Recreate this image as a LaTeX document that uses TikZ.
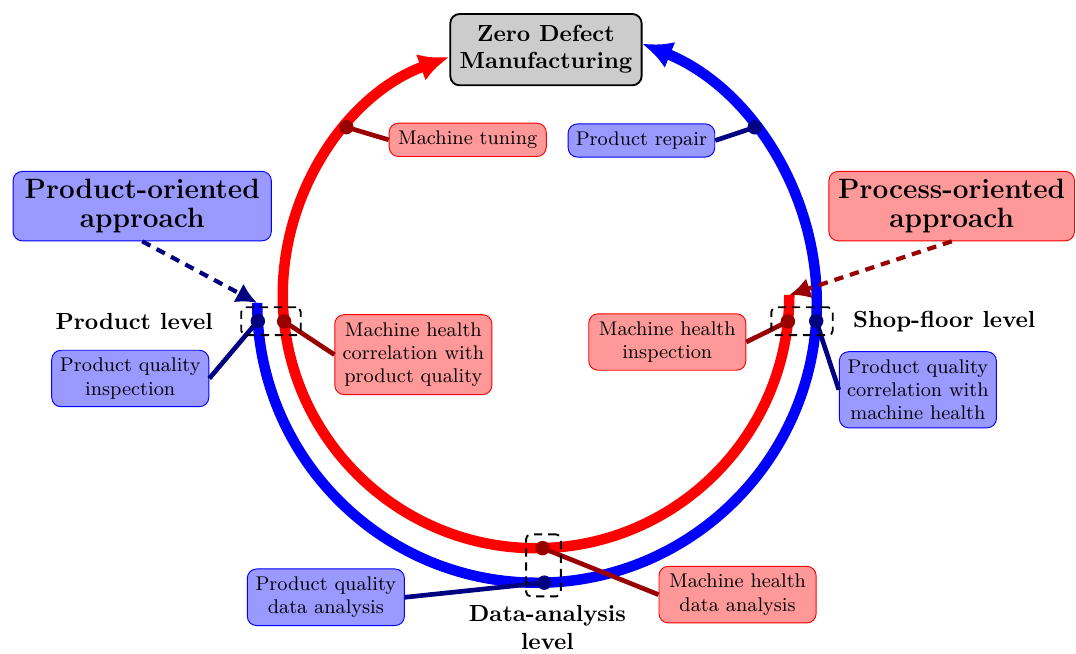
\documentclass[tikz,border=0pt]{standalone}
\usepackage{xcolor}
\usepackage{tikz}
\usetikzlibrary{arrows.meta, positioning, calc, fit}
\definecolor{darkred}{rgb}{0.6,0,0}
\definecolor{darkblue}{rgb}{0,0,0.5}
\newcommand{\smallboxfont}{\fontsize{8.5pt}{10pt}\selectfont}
\tikzstyle{goal} = [rectangle, rounded corners, draw=black, thick, fill=black!20, align=center, inner xsep=4pt, inner ysep=5pt, font=\fontsize{10pt}{11.6pt}\selectfont\bfseries]
\tikzstyle{prodapproach} = [rectangle, rounded corners, draw=blue, fill=blue!40, align=center, inner xsep=5pt, font=\fontsize{12pt}{12.5pt}\selectfont\bfseries]
\tikzstyle{procapproach} = [rectangle, rounded corners, draw=red, fill=red!40, align=center, inner xsep=4pt, font=\fontsize{12pt}{12.5pt}\selectfont\bfseries]
\tikzstyle{bluebox} = [rectangle, rounded corners, draw=blue, fill=blue!40, align=center, minimum width=2.37cm, font=\smallboxfont]
\tikzstyle{redbox} = [rectangle, rounded corners, draw=red, fill=red!40, align=center, minimum width=2.37cm, font=\smallboxfont]
\tikzstyle{redarc} = [red, line width=4.5pt, -{Latex[length=13pt,width=12pt]}]
\tikzstyle{bluearc} = [blue, line width=4.5pt, -{Latex[length=13pt,width=12pt]}]
\tikzstyle{rdot} = [circle, fill=darkred, inner sep=0pt, minimum size=6.2pt]
\tikzstyle{bdot} = [circle, fill=darkblue, inner sep=0pt, minimum size=6.2pt]
\tikzstyle{rlink} = [darkred, line width=2pt]
\tikzstyle{blink} = [darkblue, line width=2pt]
\tikzstyle{levelbox} = [rectangle, rounded corners=2pt, draw=black, thick, dash pattern=on 3.5pt off 2.5pt, inner xsep=3.8pt, inner ysep=2.6pt]
\tikzstyle{levellabel} = [font=\bfseries, align=center]
\tikzstyle{pointer} = [line width=1.8pt, dash pattern=on 4pt off 3pt, -{Latex[length=9pt,width=9pt]}]

\begin{document}
\begin{tikzpicture}
    \useasboundingbox (-8.085,-5.415) rectangle (8.145,4.449);
    % Centres of the two loops
    \coordinate (rc) at (0,0);
    \coordinate (bc) at (0.015,-0.121);

    % Goal
    \node (zdm) [goal] at (0.15,3.70) {Zero Defect\\Manufacturing};

    % Loops
    \draw [redarc] ($(rc)+(0:3.82)$) arc[start angle=0, end angle=-250, radius=3.82];
    \draw [bluearc] ($(bc)+(180:4.22)$) arc[start angle=180, end angle=428, radius=4.22];
    \coordinate (rstart) at ($(rc)+(0:3.82)$);
    \coordinate (bstart) at ($(bc)+(180:4.22)$);

    % Approaches
    \node (prodapp) [prodapproach] at (-5.94,1.34) {Product-oriented\\approach};
    \node (procapp) [procapproach] at (6.27,1.34) {Process-oriented\\approach};

    % Activities
    \node (tuning) [redbox] at (-1.03,2.34) {Machine tuning};
    \node (repair) [bluebox, minimum width=2.14cm] at (1.59,2.33) {Product repair};
    \node (mhcorr) [redbox] at (-1.85,-0.90) {Machine health\\correlation with\\product quality};
    \node (pqinsp) [bluebox] at (-6.12,-1.26) {Product quality\\inspection};
    \node (mhinsp) [redbox] at (1.98,-0.71) {Machine health\\inspection};
    \node (pqcorr) [bluebox] at (5.76,-1.43) {Product quality\\correlation with\\machine health};
    \node (pqdata) [bluebox] at (-3.17,-4.56) {Product quality\\data analysis};
    \node (mhdata) [redbox] at (3.04,-4.52) {Machine health\\data analysis};

    % Links
    \draw [pointer, darkblue] (prodapp.south) -- (bstart);
    \draw [pointer, darkred] (procapp.south) -- (rstart);
    \draw [rlink] ($(rc)+(138.5:3.82)$) -- (tuning.west);
    \draw [blink] ($(bc)+(38.9:4.22)$) -- (repair.east);
    \draw [rlink] ($(rc)+(186:3.82)$) -- (mhcorr.west);
    \draw [blink] ($(bc)+(183.7:4.22)$) -- (pqinsp.east);
    \draw [rlink] ($(rc)+(354:3.82)$) -- (mhinsp.east);
    \draw [blink] ($(bc)+(356.3:4.22)$) -- (pqcorr.west);
    \draw [blink] ($(bc)+(271.5:4.22)$) -- (pqdata.east);
    \draw [rlink] ($(rc)+(271.5:3.82)$) -- (mhdata.west);

    % Dots
    \node (rtune) [rdot] at ($(rc)+(138.5:3.82)$) {};
    \node (brep) [bdot] at ($(bc)+(38.9:4.22)$) {};
    \node (rleft) [rdot] at ($(rc)+(186:3.82)$) {};
    \node (bleft) [bdot] at ($(bc)+(183.7:4.22)$) {};
    \node (rright) [rdot] at ($(rc)+(354:3.82)$) {};
    \node (bright) [bdot] at ($(bc)+(356.3:4.22)$) {};
    \node (rbottom) [rdot] at ($(rc)+(271.5:3.82)$) {};
    \node (bbottom) [bdot] at ($(bc)+(271.5:4.22)$) {};

    % Levels
    \node (prodlevel) [levelbox, fit=(bleft)(rleft)] {};
    \node (shoplevel) [levelbox, fit=(rright)(bright)] {};
    \node (datalevel) [levelbox, fit=(rbottom)(bbottom)] {};
    \node (prodlbl) [levellabel, left=0.29cm of prodlevel] {Product level};
    \node (shoplbl) [levellabel, right=0.17cm of shoplevel] {Shop-floor level};
    \node (datalbl) [levellabel, below=0pt of datalevel, xshift=0.06cm] {Data-analysis\\level};
\end{tikzpicture}
\end{document}
